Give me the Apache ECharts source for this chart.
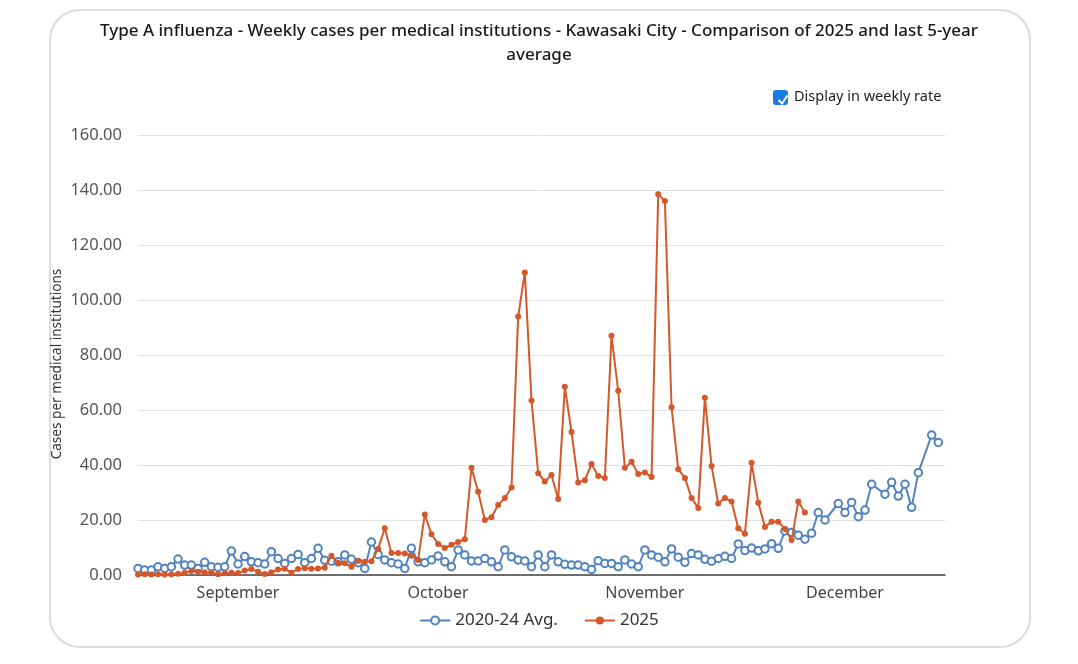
<!DOCTYPE html>
<html>
<head>
<meta charset="utf-8">
<script src="https://cdn.jsdelivr.net/npm/echarts@6/dist/echarts.min.js"></script>
<style>
html,body{margin:0;padding:0;background:#fff;}
#chart{width:1078px;height:664px;}
</style>
</head>
<body>
<div id="chart"></div>
<script>
// ---- data ----
var monthNames = ['September', 'October', 'November', 'December'];
var monthLabelIdx = [15, 45, 76, 106];
var dayCount = 122;

var avg2020_24 = [
  2.4, 1.8, 1.8, 3.0, 2.4, 3.0, 5.8, 3.6, 3.6, 2.4,
  4.6, 3.0, 2.8, 3.0, 8.7, 4.0, 6.7, 4.8, 4.5, 4.0,
  8.5, 6.0, 4.2, 6.0, 7.5, 4.5, 6.0, 9.7, 5.4, 5.0,
  4.8, 7.3, 5.7, 4.5, 2.4, 12.0, 7.5, 5.5, 4.5, 4.0,
  2.4, 9.7, 4.8, 4.5, 5.5, 6.9, 4.8, 3.0, 9.1, 7.3,
  5.1, 5.1, 6.0, 4.8, 3.0, 9.1, 6.6, 5.5, 5.1, 3.0,
  7.3, 3.0, 7.3, 4.8, 3.9, 3.6, 3.6, 3.0, 2.0, 5.2,
  4.2, 4.2, 3.0, 5.5, 4.0, 3.0, 9.1, 7.3, 6.5, 4.8,
  9.5, 6.5, 4.6, 7.8, 7.3, 5.7, 5.0, 6.0, 6.8, 6.0,
  11.3, 8.9, 9.8, 8.8, 9.5, 11.4, 9.7, 16.0, 15.5, 14.5,
  13.0, 15.2, 22.7, 20.0, null, 26.0, 22.7, 26.4, 21.2, 23.6,
  33.0, null, 29.4, 33.7, 28.7, 33.0, 24.6, 37.2, null, 50.9,
  48.2
];

var y2025 = [
  0.2, 0.3, 0.2, 0.3, 0.2, 0.3, 0.5, 0.8, 1.5, 1.2,
  1.0, 0.9, 0.3, 0.6, 0.8, 0.7, 1.6, 2.2, 1.2, 0.4,
  1.0, 2.0, 2.3, 0.8, 2.2, 2.5, 2.3, 2.4, 2.6, 7.0,
  4.5, 4.3, 3.0, 5.2, 4.8, 5.0, 9.5, 17.0, 8.0, 8.0,
  7.8, 7.0, 5.5, 22.0, 14.8, 11.3, 9.8, 11.0, 12.0, 13.0,
  39.0, 30.3, 20.0, 21.0, 25.5, 28.0, 31.8, 94.0, 110.0, 63.5,
  37.0, 34.0, 36.4, 27.6, 68.5, 52.0, 33.6, 34.5, 40.4, 36.0,
  35.3, 87.0, 67.0, 39.0, 41.2, 36.7, 37.3, 35.6, 138.5, 136.0,
  61.0, 38.5, 35.3, 28.0, 24.4, 64.5, 39.6, 26.0, 28.0, 26.7,
  17.0, 15.0, 40.8, 26.3, 17.5, 19.4, 19.4, 16.7, 12.7, 26.7,
  22.7
];

var seriesNames = ['2020-24 Avg.', '2025'];
var titleText = 'Type A influenza - Weekly cases per medical institutions - Kawasaki City - Comparison of 2025 and last 5-year\naverage';
var yAxisName = 'Cases per medical institutions';
var checkboxText = 'Display in weekly rate';

// ---- chart ----
var categories = [];
for (var i = 0; i < dayCount; i++) categories.push(String(i));

var FONT = '"Noto Sans", "DejaVu Sans", sans-serif';
var BLUE = '#5283bd';
var ORANGE = '#d4582a';

var chart = echarts.init(document.getElementById('chart'), null, {renderer: 'canvas'});
chart.setOption({
  animation: false,
  backgroundColor: '#fff',
  textStyle: {fontFamily: FONT},
  title: {
    text: titleText,
    left: 'center',
    top: 14,
    textStyle: {fontFamily: FONT, fontSize: 17, fontWeight: 500, color: '#1a1a1a', lineHeight: 24}
  },
  graphic: [
    {
      type: 'rect', left: 49, top: 9, z: -10,
      shape: {width: 980, height: 637, r: 30},
      style: {fill: '#fff', stroke: '#dcdcdc', lineWidth: 2}
    },
    {
      type: 'rect', left: 773, top: 90, z: 10,
      shape: {width: 15, height: 15, r: 3},
      style: {fill: '#1a7be0'}
    },
    {
      type: 'polyline', left: 776, top: 93, z: 11,
      shape: {points: [[0, 5], [3.5, 8.5], [9, 0.5]]},
      style: {stroke: '#fff', lineWidth: 2, fill: null}
    },
    {
      type: 'text', left: 794, top: 89, z: 10,
      style: {text: checkboxText, fontFamily: FONT, fontSize: 14.5, fill: '#222'}
    },
    {
      type: 'text', x: 57, y: 364, rotation: Math.PI / 2, z: 10,
      style: {text: yAxisName, fontFamily: FONT, fontSize: 13.6, fill: '#333',
              align: 'center', verticalAlign: 'middle'}
    }
  ],
  legend: {
    bottom: 30,
    left: 'center',
    itemWidth: 30,
    itemHeight: 10,
    itemGap: 26,
    textStyle: {fontFamily: FONT, fontSize: 17, color: '#333'},
    data: seriesNames
  },
  grid: {left: 138, right: 133, top: 135, bottom: 89, containLabel: false},
  xAxis: {
    type: 'category',
    boundaryGap: false,
    data: categories,
    axisLine: {lineStyle: {color: '#444', width: 1.5}},
    axisTick: {show: false},
    splitLine: {show: false},
    axisLabel: {
      interval: function (idx) { return monthLabelIdx.indexOf(idx) >= 0; },
      formatter: function (v, idx) {
        var k = monthLabelIdx.indexOf(idx);
        return k >= 0 ? monthNames[k] : '';
      },
      color: '#444', fontSize: 16, fontFamily: FONT, margin: 10
    }
  },
  yAxis: {
    type: 'value',
    min: 0, max: 160, interval: 20,
    axisLine: {show: false},
    axisTick: {show: false},
    axisLabel: {
      formatter: function (v) { return v.toFixed(2); },
      color: '#555', fontSize: 16.5, fontFamily: FONT, margin: 16
    },
    splitLine: {lineStyle: {color: '#e2e2e2', width: 1}}
  },
  series: [
    {
      name: seriesNames[0],
      type: 'line',
      data: avg2020_24,
      connectNulls: true,
      symbol: 'emptyCircle',
      symbolSize: 7.5,
      showAllSymbol: true,
      lineStyle: {color: BLUE, width: 2},
      itemStyle: {color: BLUE, borderColor: BLUE, borderWidth: 1.2},
      z: 2
    },
    {
      name: seriesNames[1],
      type: 'line',
      data: y2025,
      symbol: 'circle',
      symbolSize: 6,
      showAllSymbol: true,
      lineStyle: {color: ORANGE, width: 2},
      itemStyle: {color: ORANGE},
      z: 3
    }
  ]
});
</script>
</body>
</html>
